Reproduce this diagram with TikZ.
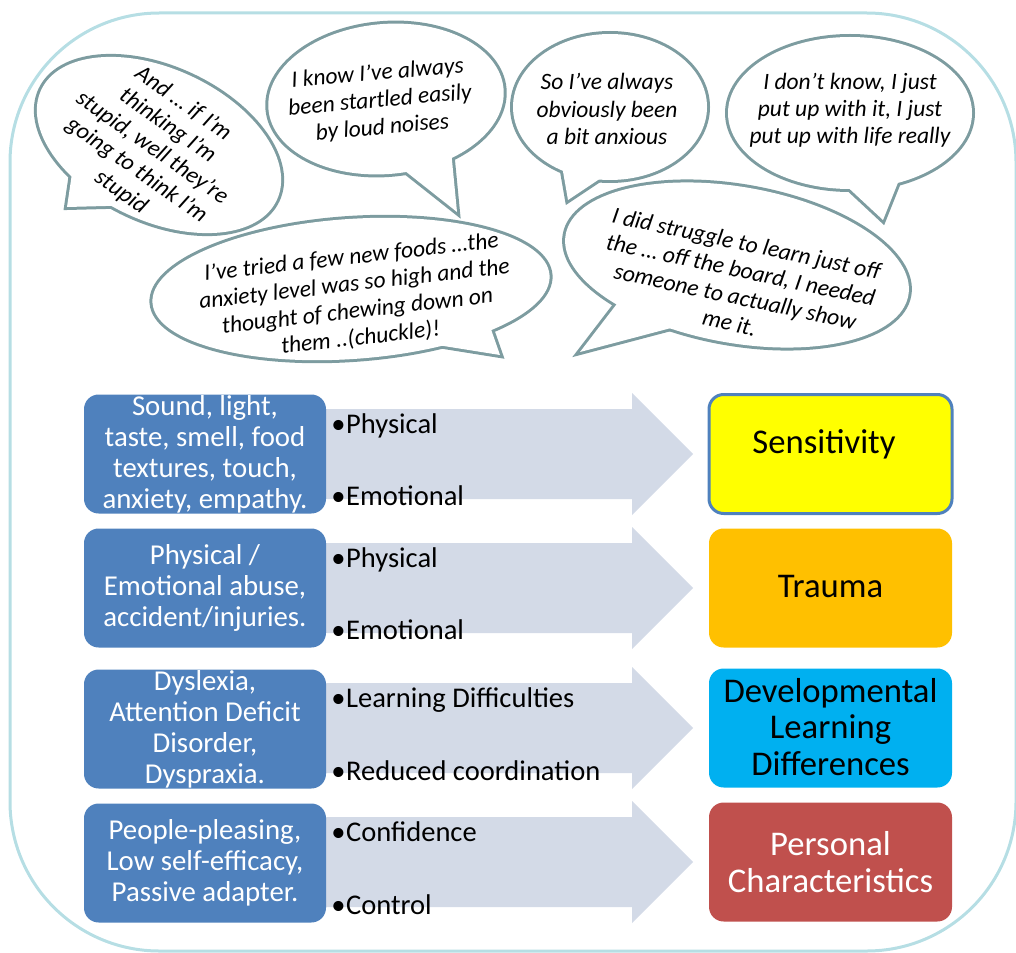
\documentclass[tikz,border=0pt]{standalone}
\usepackage{fontspec}
\setmainfont{Carlito}
\usetikzlibrary{shapes.geometric}

\definecolor{framecol}{HTML}{B6DEE4}
\definecolor{bubcol}{HTML}{7D9CA0}
\definecolor{bandcol}{HTML}{D3DAE7}
\definecolor{boxblue}{HTML}{4F81BD}
\definecolor{sensyellow}{HTML}{FFFF00}
\definecolor{traumaorange}{HTML}{FFC000}
\definecolor{devcyan}{HTML}{00B0F0}
\definecolor{persred}{HTML}{C0504D}

\tikzset{
  bubline/.style={draw=bubcol, line width=4.5pt},
  bubtext/.style={font=\itshape\fontsize{17.6}{20.3}\selectfont, align=center, text=black, inner sep=0pt},
  causebox/.style={rounded corners=11pt, fill=boxblue, text=white, minimum width=181.5pt,
    minimum height=89.25pt, align=center, font=\fontsize{21.6}{23.2}\selectfont, inner sep=0pt},
  outcome/.style={rounded corners=11pt, minimum width=182.25pt, minimum height=89.25pt, inner sep=0pt},
  outtext/.style={align=center, font=\fontsize{26}{27.5}\selectfont, inner sep=0pt},
  bulletitem/.style={anchor=base west, font=\fontsize{21.4}{24}\selectfont, inner sep=0pt},
}

\begin{document}
\begin{tikzpicture}[x=0.75pt, y=-0.75pt]
\useasboundingbox (0,0) rectangle (1016,952);

% outer rounded frame
\draw[framecol, line width=2.25pt, rounded corners=112pt] (10,13) rectangle (1016,951);

% ---- speech bubbles: thick outline first, then white fill leaves the outer half ----
% bubble A
\path[bubline, rotate around={-25:(159,145)}] (159,145) ellipse [x radius=130, y radius=76];
\path[bubline] (74,160) -- (67,207) -- (125,205.5) -- cycle;
\fill[white, rotate around={-25:(159,145)}] (159,145) ellipse [x radius=130, y radius=76];
\fill[white] (74,160) -- (67,207) -- (125,205.5) -- cycle;
\node[bubtext, rotate=-35] (tA) at (152,148) {And … if I’m\\thinking I’m\\stupid, well they’re\\going to think I’m\\stupid};

% bubble B
\path[bubline, rotate around={5:(386,99)}] (386,99) ellipse [x radius=118, y radius=75];
\path[bubline] (395,163) -- (457,212) -- (451,150) -- cycle;
\fill[white, rotate around={5:(386,99)}] (386,99) ellipse [x radius=118, y radius=75];
\fill[white] (395,163) -- (457,212) -- (451,150) -- cycle;
\node[bubtext, rotate=5] (tB) at (380,101) {I know I’ve always\\been startled easily\\by loud noises};

% bubble C
\path[bubline] (610,107) ellipse [x radius=97, y radius=73];
\path[bubline] (561,160) -- (568,200) -- (613,170) -- cycle;
\fill[white] (610,107) ellipse [x radius=97, y radius=73];
\fill[white] (561,160) -- (568,200) -- (613,170) -- cycle;
\node[bubtext] (tC) at (607,109) {So I’ve always\\obviously been\\a bit anxious};

% bubble D
\path[bubline] (850,113) ellipse [x radius=122, y radius=76];
\path[bubline] (840,180) -- (883,220) -- (903,170) -- cycle;
\fill[white] (850,113) ellipse [x radius=122, y radius=76];
\fill[white] (840,180) -- (883,220) -- (903,170) -- cycle;
\node[bubtext] (tD) at (850,110) {I don’t know, I just\\put up with it, I just\\put up with life really};

% bubble E
\path[bubline, rotate around={4:(351,289)}] (351,289) ellipse [x radius=199, y radius=70];
\path[bubline] (486,315) -- (500,355) -- (425,343) -- cycle;
\fill[white, rotate around={4:(351,289)}] (351,289) ellipse [x radius=199, y radius=70];
\fill[white] (486,315) -- (500,355) -- (425,343) -- cycle;
\node[bubtext, rotate=6.5] (tE) at (356,298) {I’ve tried a few new foods …the\\anxiety level was so high and the\\thought of chewing down on\\them ..(chuckle)!};

% bubble F
\path[bubline, rotate around={-10:(737,265)}] (737,265) ellipse [x radius=174, y radius=78];
\path[bubline] (626,292) -- (580,352) -- (690,323) -- cycle;
\fill[white, rotate around={-10:(737,265)}] (737,265) ellipse [x radius=174, y radius=78];
\fill[white] (626,292) -- (580,352) -- (690,323) -- cycle;
\node[bubtext, rotate=-12] (tF) at (738,283) {I did struggle to learn just off\\the … off the board, I needed\\someone to actually show\\me it.};

% ---- wide arrows behind the rows ----
\foreach \c in {454,588,728,862} {
  \fill[bandcol] (205,\c-45) -- (632,\c-45) -- (632,\c-61) -- (693,\c)
                 -- (632,\c+61) -- (632,\c+45) -- (205,\c+45) -- cycle;
}

% ---- cause boxes ----
\node[causebox] (c1) at (205,454) {Sound, light,\\taste, smell, food\\textures, touch,\\anxiety, empathy.};
\node[causebox] (c2) at (205,588) {Physical /\\Emotional abuse,\\accident/injuries.};
\node[causebox] (c3) at (205,729) {Dyslexia,\\Attention Deficit\\Disorder,\\Dyspraxia.};
\node[causebox] (c4) at (205,863) {People-pleasing,\\Low self-efficacy,\\Passive adapter.};

% ---- bullet items ----
\node[bulletitem] (b1a) at (331,433) {•\kern0.5pt Physical};
\node[bulletitem] (b1b) at (331,505) {•\kern0.5pt Emotional};
\node[bulletitem] (b2a) at (331,567) {•\kern0.5pt Physical};
\node[bulletitem] (b2b) at (331,639) {•\kern0.5pt Emotional};
\node[bulletitem] (b3a) at (331,707) {•\kern0.5pt Learning Difficulties};
\node[bulletitem] (b3b) at (331,780) {•\kern0.5pt Reduced coordination};
\node[bulletitem] (b4a) at (331,841) {•\kern0.5pt Confidence};
\node[bulletitem] (b4b) at (331,914) {•\kern0.5pt Control};

% ---- outcome boxes ----
\node[outcome, fill=sensyellow, draw=boxblue, line width=2.25pt] (o1) at (830.5,454) {};
\node[outtext] (o1t) at (824,444) {Sensitivity};
\node[outcome, fill=traumaorange] (o2) at (830.5,588) {};
\node[outtext] (o2t) at (830.5,586) {Trauma};
\node[outcome, fill=devcyan] (o3) at (830.5,728) {};
\node[outtext] (o3t) at (830.5,727) {Developmental\\Learning\\Differences};
\node[outcome, fill=persred] (o4) at (830.5,862) {};
\node[outtext, text=white] (o4t) at (830.5,862) {Personal\\Characteristics};
\end{tikzpicture}
\end{document}
